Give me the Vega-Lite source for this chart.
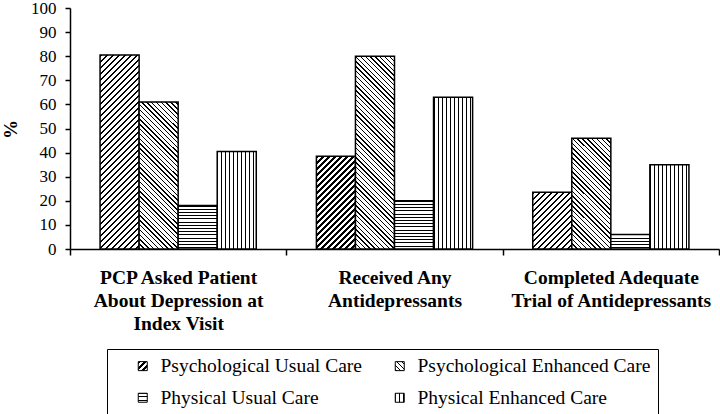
{
  "$schema": "https://vega.github.io/schema/vega-lite/v6.json",
  "width": 649,
  "height": 241,
  "autosize": {"type": "none"},
  "padding": {"left": 70, "top": 8, "right": 1, "bottom": 165},
  "background": "white",
  "params": [
    {"name": "thick", "value": [
      {"offset":0,"color":"#000"},{"offset":0.009,"color":"#000"},{"offset":0.009,"color":"#fff"},{"offset":0.02,"color":"#fff"},
      {"offset":0.02,"color":"#000"},{"offset":0.029,"color":"#000"},{"offset":0.029,"color":"#fff"},{"offset":0.04,"color":"#fff"},
      {"offset":0.04,"color":"#000"},{"offset":0.049,"color":"#000"},{"offset":0.049,"color":"#fff"},{"offset":0.06,"color":"#fff"},
      {"offset":0.06,"color":"#000"},{"offset":0.069,"color":"#000"},{"offset":0.069,"color":"#fff"},{"offset":0.08,"color":"#fff"},
      {"offset":0.08,"color":"#000"},{"offset":0.089,"color":"#000"},{"offset":0.089,"color":"#fff"},{"offset":0.1,"color":"#fff"},
      {"offset":0.1,"color":"#000"},{"offset":0.109,"color":"#000"},{"offset":0.109,"color":"#fff"},{"offset":0.12,"color":"#fff"},
      {"offset":0.12,"color":"#000"},{"offset":0.129,"color":"#000"},{"offset":0.129,"color":"#fff"},{"offset":0.14,"color":"#fff"},
      {"offset":0.14,"color":"#000"},{"offset":0.149,"color":"#000"},{"offset":0.149,"color":"#fff"},{"offset":0.16,"color":"#fff"},
      {"offset":0.16,"color":"#000"},{"offset":0.169,"color":"#000"},{"offset":0.169,"color":"#fff"},{"offset":0.18,"color":"#fff"},
      {"offset":0.18,"color":"#000"},{"offset":0.189,"color":"#000"},{"offset":0.189,"color":"#fff"},{"offset":0.2,"color":"#fff"},
      {"offset":0.2,"color":"#000"},{"offset":0.209,"color":"#000"},{"offset":0.209,"color":"#fff"},{"offset":0.22,"color":"#fff"},
      {"offset":0.22,"color":"#000"},{"offset":0.229,"color":"#000"},{"offset":0.229,"color":"#fff"},{"offset":0.24,"color":"#fff"},
      {"offset":0.24,"color":"#000"},{"offset":0.249,"color":"#000"},{"offset":0.249,"color":"#fff"},{"offset":0.26,"color":"#fff"},
      {"offset":0.26,"color":"#000"},{"offset":0.269,"color":"#000"},{"offset":0.269,"color":"#fff"},{"offset":0.28,"color":"#fff"},
      {"offset":0.28,"color":"#000"},{"offset":0.289,"color":"#000"},{"offset":0.289,"color":"#fff"},{"offset":0.3,"color":"#fff"},
      {"offset":0.3,"color":"#000"},{"offset":0.309,"color":"#000"},{"offset":0.309,"color":"#fff"},{"offset":0.32,"color":"#fff"},
      {"offset":0.32,"color":"#000"},{"offset":0.329,"color":"#000"},{"offset":0.329,"color":"#fff"},{"offset":0.34,"color":"#fff"},
      {"offset":0.34,"color":"#000"},{"offset":0.349,"color":"#000"},{"offset":0.349,"color":"#fff"},{"offset":0.36,"color":"#fff"},
      {"offset":0.36,"color":"#000"},{"offset":0.369,"color":"#000"},{"offset":0.369,"color":"#fff"},{"offset":0.38,"color":"#fff"},
      {"offset":0.38,"color":"#000"},{"offset":0.389,"color":"#000"},{"offset":0.389,"color":"#fff"},{"offset":0.4,"color":"#fff"},
      {"offset":0.4,"color":"#000"},{"offset":0.409,"color":"#000"},{"offset":0.409,"color":"#fff"},{"offset":0.42,"color":"#fff"},
      {"offset":0.42,"color":"#000"},{"offset":0.429,"color":"#000"},{"offset":0.429,"color":"#fff"},{"offset":0.44,"color":"#fff"},
      {"offset":0.44,"color":"#000"},{"offset":0.449,"color":"#000"},{"offset":0.449,"color":"#fff"},{"offset":0.46,"color":"#fff"},
      {"offset":0.46,"color":"#000"},{"offset":0.469,"color":"#000"},{"offset":0.469,"color":"#fff"},{"offset":0.48,"color":"#fff"},
      {"offset":0.48,"color":"#000"},{"offset":0.489,"color":"#000"},{"offset":0.489,"color":"#fff"},{"offset":0.5,"color":"#fff"},
      {"offset":0.5,"color":"#000"},{"offset":0.509,"color":"#000"},{"offset":0.509,"color":"#fff"},{"offset":0.52,"color":"#fff"},
      {"offset":0.52,"color":"#000"},{"offset":0.529,"color":"#000"},{"offset":0.529,"color":"#fff"},{"offset":0.54,"color":"#fff"},
      {"offset":0.54,"color":"#000"},{"offset":0.549,"color":"#000"},{"offset":0.549,"color":"#fff"},{"offset":0.56,"color":"#fff"},
      {"offset":0.56,"color":"#000"},{"offset":0.569,"color":"#000"},{"offset":0.569,"color":"#fff"},{"offset":0.58,"color":"#fff"},
      {"offset":0.58,"color":"#000"},{"offset":0.589,"color":"#000"},{"offset":0.589,"color":"#fff"},{"offset":0.6,"color":"#fff"},
      {"offset":0.6,"color":"#000"},{"offset":0.609,"color":"#000"},{"offset":0.609,"color":"#fff"},{"offset":0.62,"color":"#fff"},
      {"offset":0.62,"color":"#000"},{"offset":0.629,"color":"#000"},{"offset":0.629,"color":"#fff"},{"offset":0.64,"color":"#fff"},
      {"offset":0.64,"color":"#000"},{"offset":0.649,"color":"#000"},{"offset":0.649,"color":"#fff"},{"offset":0.66,"color":"#fff"},
      {"offset":0.66,"color":"#000"},{"offset":0.669,"color":"#000"},{"offset":0.669,"color":"#fff"},{"offset":0.68,"color":"#fff"},
      {"offset":0.68,"color":"#000"},{"offset":0.689,"color":"#000"},{"offset":0.689,"color":"#fff"},{"offset":0.7,"color":"#fff"},
      {"offset":0.7,"color":"#000"},{"offset":0.709,"color":"#000"},{"offset":0.709,"color":"#fff"},{"offset":0.72,"color":"#fff"},
      {"offset":0.72,"color":"#000"},{"offset":0.729,"color":"#000"},{"offset":0.729,"color":"#fff"},{"offset":0.74,"color":"#fff"},
      {"offset":0.74,"color":"#000"},{"offset":0.749,"color":"#000"},{"offset":0.749,"color":"#fff"},{"offset":0.76,"color":"#fff"},
      {"offset":0.76,"color":"#000"},{"offset":0.769,"color":"#000"},{"offset":0.769,"color":"#fff"},{"offset":0.78,"color":"#fff"},
      {"offset":0.78,"color":"#000"},{"offset":0.789,"color":"#000"},{"offset":0.789,"color":"#fff"},{"offset":0.8,"color":"#fff"},
      {"offset":0.8,"color":"#000"},{"offset":0.809,"color":"#000"},{"offset":0.809,"color":"#fff"},{"offset":0.82,"color":"#fff"},
      {"offset":0.82,"color":"#000"},{"offset":0.829,"color":"#000"},{"offset":0.829,"color":"#fff"},{"offset":0.84,"color":"#fff"},
      {"offset":0.84,"color":"#000"},{"offset":0.849,"color":"#000"},{"offset":0.849,"color":"#fff"},{"offset":0.86,"color":"#fff"},
      {"offset":0.86,"color":"#000"},{"offset":0.869,"color":"#000"},{"offset":0.869,"color":"#fff"},{"offset":0.88,"color":"#fff"},
      {"offset":0.88,"color":"#000"},{"offset":0.889,"color":"#000"},{"offset":0.889,"color":"#fff"},{"offset":0.9,"color":"#fff"},
      {"offset":0.9,"color":"#000"},{"offset":0.909,"color":"#000"},{"offset":0.909,"color":"#fff"},{"offset":0.92,"color":"#fff"},
      {"offset":0.92,"color":"#000"},{"offset":0.929,"color":"#000"},{"offset":0.929,"color":"#fff"},{"offset":0.94,"color":"#fff"},
      {"offset":0.94,"color":"#000"},{"offset":0.949,"color":"#000"},{"offset":0.949,"color":"#fff"},{"offset":0.96,"color":"#fff"},
      {"offset":0.96,"color":"#000"},{"offset":0.969,"color":"#000"},{"offset":0.969,"color":"#fff"},{"offset":0.98,"color":"#fff"},
      {"offset":0.98,"color":"#000"},{"offset":0.989,"color":"#000"},{"offset":0.989,"color":"#fff"},{"offset":1,"color":"#fff"}
    ]},
    {"name": "thin", "value": [
      {"offset":0,"color":"#000"},{"offset":0.006,"color":"#000"},{"offset":0.006,"color":"#fff"},{"offset":0.02,"color":"#fff"},
      {"offset":0.02,"color":"#000"},{"offset":0.026,"color":"#000"},{"offset":0.026,"color":"#fff"},{"offset":0.04,"color":"#fff"},
      {"offset":0.04,"color":"#000"},{"offset":0.046,"color":"#000"},{"offset":0.046,"color":"#fff"},{"offset":0.06,"color":"#fff"},
      {"offset":0.06,"color":"#000"},{"offset":0.066,"color":"#000"},{"offset":0.066,"color":"#fff"},{"offset":0.08,"color":"#fff"},
      {"offset":0.08,"color":"#000"},{"offset":0.086,"color":"#000"},{"offset":0.086,"color":"#fff"},{"offset":0.1,"color":"#fff"},
      {"offset":0.1,"color":"#000"},{"offset":0.106,"color":"#000"},{"offset":0.106,"color":"#fff"},{"offset":0.12,"color":"#fff"},
      {"offset":0.12,"color":"#000"},{"offset":0.126,"color":"#000"},{"offset":0.126,"color":"#fff"},{"offset":0.14,"color":"#fff"},
      {"offset":0.14,"color":"#000"},{"offset":0.146,"color":"#000"},{"offset":0.146,"color":"#fff"},{"offset":0.16,"color":"#fff"},
      {"offset":0.16,"color":"#000"},{"offset":0.166,"color":"#000"},{"offset":0.166,"color":"#fff"},{"offset":0.18,"color":"#fff"},
      {"offset":0.18,"color":"#000"},{"offset":0.186,"color":"#000"},{"offset":0.186,"color":"#fff"},{"offset":0.2,"color":"#fff"},
      {"offset":0.2,"color":"#000"},{"offset":0.206,"color":"#000"},{"offset":0.206,"color":"#fff"},{"offset":0.22,"color":"#fff"},
      {"offset":0.22,"color":"#000"},{"offset":0.226,"color":"#000"},{"offset":0.226,"color":"#fff"},{"offset":0.24,"color":"#fff"},
      {"offset":0.24,"color":"#000"},{"offset":0.246,"color":"#000"},{"offset":0.246,"color":"#fff"},{"offset":0.26,"color":"#fff"},
      {"offset":0.26,"color":"#000"},{"offset":0.266,"color":"#000"},{"offset":0.266,"color":"#fff"},{"offset":0.28,"color":"#fff"},
      {"offset":0.28,"color":"#000"},{"offset":0.286,"color":"#000"},{"offset":0.286,"color":"#fff"},{"offset":0.3,"color":"#fff"},
      {"offset":0.3,"color":"#000"},{"offset":0.306,"color":"#000"},{"offset":0.306,"color":"#fff"},{"offset":0.32,"color":"#fff"},
      {"offset":0.32,"color":"#000"},{"offset":0.326,"color":"#000"},{"offset":0.326,"color":"#fff"},{"offset":0.34,"color":"#fff"},
      {"offset":0.34,"color":"#000"},{"offset":0.346,"color":"#000"},{"offset":0.346,"color":"#fff"},{"offset":0.36,"color":"#fff"},
      {"offset":0.36,"color":"#000"},{"offset":0.366,"color":"#000"},{"offset":0.366,"color":"#fff"},{"offset":0.38,"color":"#fff"},
      {"offset":0.38,"color":"#000"},{"offset":0.386,"color":"#000"},{"offset":0.386,"color":"#fff"},{"offset":0.4,"color":"#fff"},
      {"offset":0.4,"color":"#000"},{"offset":0.406,"color":"#000"},{"offset":0.406,"color":"#fff"},{"offset":0.42,"color":"#fff"},
      {"offset":0.42,"color":"#000"},{"offset":0.426,"color":"#000"},{"offset":0.426,"color":"#fff"},{"offset":0.44,"color":"#fff"},
      {"offset":0.44,"color":"#000"},{"offset":0.446,"color":"#000"},{"offset":0.446,"color":"#fff"},{"offset":0.46,"color":"#fff"},
      {"offset":0.46,"color":"#000"},{"offset":0.466,"color":"#000"},{"offset":0.466,"color":"#fff"},{"offset":0.48,"color":"#fff"},
      {"offset":0.48,"color":"#000"},{"offset":0.486,"color":"#000"},{"offset":0.486,"color":"#fff"},{"offset":0.5,"color":"#fff"},
      {"offset":0.5,"color":"#000"},{"offset":0.506,"color":"#000"},{"offset":0.506,"color":"#fff"},{"offset":0.52,"color":"#fff"},
      {"offset":0.52,"color":"#000"},{"offset":0.526,"color":"#000"},{"offset":0.526,"color":"#fff"},{"offset":0.54,"color":"#fff"},
      {"offset":0.54,"color":"#000"},{"offset":0.546,"color":"#000"},{"offset":0.546,"color":"#fff"},{"offset":0.56,"color":"#fff"},
      {"offset":0.56,"color":"#000"},{"offset":0.566,"color":"#000"},{"offset":0.566,"color":"#fff"},{"offset":0.58,"color":"#fff"},
      {"offset":0.58,"color":"#000"},{"offset":0.586,"color":"#000"},{"offset":0.586,"color":"#fff"},{"offset":0.6,"color":"#fff"},
      {"offset":0.6,"color":"#000"},{"offset":0.606,"color":"#000"},{"offset":0.606,"color":"#fff"},{"offset":0.62,"color":"#fff"},
      {"offset":0.62,"color":"#000"},{"offset":0.626,"color":"#000"},{"offset":0.626,"color":"#fff"},{"offset":0.64,"color":"#fff"},
      {"offset":0.64,"color":"#000"},{"offset":0.646,"color":"#000"},{"offset":0.646,"color":"#fff"},{"offset":0.66,"color":"#fff"},
      {"offset":0.66,"color":"#000"},{"offset":0.666,"color":"#000"},{"offset":0.666,"color":"#fff"},{"offset":0.68,"color":"#fff"},
      {"offset":0.68,"color":"#000"},{"offset":0.686,"color":"#000"},{"offset":0.686,"color":"#fff"},{"offset":0.7,"color":"#fff"},
      {"offset":0.7,"color":"#000"},{"offset":0.706,"color":"#000"},{"offset":0.706,"color":"#fff"},{"offset":0.72,"color":"#fff"},
      {"offset":0.72,"color":"#000"},{"offset":0.726,"color":"#000"},{"offset":0.726,"color":"#fff"},{"offset":0.74,"color":"#fff"},
      {"offset":0.74,"color":"#000"},{"offset":0.746,"color":"#000"},{"offset":0.746,"color":"#fff"},{"offset":0.76,"color":"#fff"},
      {"offset":0.76,"color":"#000"},{"offset":0.766,"color":"#000"},{"offset":0.766,"color":"#fff"},{"offset":0.78,"color":"#fff"},
      {"offset":0.78,"color":"#000"},{"offset":0.786,"color":"#000"},{"offset":0.786,"color":"#fff"},{"offset":0.8,"color":"#fff"},
      {"offset":0.8,"color":"#000"},{"offset":0.806,"color":"#000"},{"offset":0.806,"color":"#fff"},{"offset":0.82,"color":"#fff"},
      {"offset":0.82,"color":"#000"},{"offset":0.826,"color":"#000"},{"offset":0.826,"color":"#fff"},{"offset":0.84,"color":"#fff"},
      {"offset":0.84,"color":"#000"},{"offset":0.846,"color":"#000"},{"offset":0.846,"color":"#fff"},{"offset":0.86,"color":"#fff"},
      {"offset":0.86,"color":"#000"},{"offset":0.866,"color":"#000"},{"offset":0.866,"color":"#fff"},{"offset":0.88,"color":"#fff"},
      {"offset":0.88,"color":"#000"},{"offset":0.886,"color":"#000"},{"offset":0.886,"color":"#fff"},{"offset":0.9,"color":"#fff"},
      {"offset":0.9,"color":"#000"},{"offset":0.906,"color":"#000"},{"offset":0.906,"color":"#fff"},{"offset":0.92,"color":"#fff"},
      {"offset":0.92,"color":"#000"},{"offset":0.926,"color":"#000"},{"offset":0.926,"color":"#fff"},{"offset":0.94,"color":"#fff"},
      {"offset":0.94,"color":"#000"},{"offset":0.946,"color":"#000"},{"offset":0.946,"color":"#fff"},{"offset":0.96,"color":"#fff"},
      {"offset":0.96,"color":"#000"},{"offset":0.966,"color":"#000"},{"offset":0.966,"color":"#fff"},{"offset":0.98,"color":"#fff"},
      {"offset":0.98,"color":"#000"},{"offset":0.986,"color":"#000"},{"offset":0.986,"color":"#fff"},{"offset":1,"color":"#fff"}
    ]}
  ],
  "data": {"values": [
    {"measure": "PCP Asked Patient About Depression at Index Visit", "group": "Psychological Usual Care", "pct": 80.5},
    {"measure": "PCP Asked Patient About Depression at Index Visit", "group": "Psychological Enhanced Care", "pct": 61},
    {"measure": "PCP Asked Patient About Depression at Index Visit", "group": "Physical Usual Care", "pct": 18},
    {"measure": "PCP Asked Patient About Depression at Index Visit", "group": "Physical Enhanced Care", "pct": 40.5},
    {"measure": "Received Any Antidepressants", "group": "Psychological Usual Care", "pct": 38.5},
    {"measure": "Received Any Antidepressants", "group": "Psychological Enhanced Care", "pct": 80},
    {"measure": "Received Any Antidepressants", "group": "Physical Usual Care", "pct": 20},
    {"measure": "Received Any Antidepressants", "group": "Physical Enhanced Care", "pct": 63},
    {"measure": "Completed Adequate Trial of Antidepressants", "group": "Psychological Usual Care", "pct": 23.5},
    {"measure": "Completed Adequate Trial of Antidepressants", "group": "Psychological Enhanced Care", "pct": 46},
    {"measure": "Completed Adequate Trial of Antidepressants", "group": "Physical Usual Care", "pct": 6},
    {"measure": "Completed Adequate Trial of Antidepressants", "group": "Physical Enhanced Care", "pct": 35}
  ]},
  "mark": {
    "type": "bar",
    "strokeWidth": 1.5,
    "fill": {"expr": "!isValid(datum.pct) ? (datum.value === 'Psychological Usual Care' ? {gradient: 'linear', x1: 0, y1: 0, x2: 16.67, y2: 16.67, stops: thick} : datum.value === 'Psychological Enhanced Care' ? {gradient: 'linear', x1: 0, y1: 1, x2: 13.33, y2: -12.33, stops: thin} : datum.value === 'Physical Usual Care' ? {gradient: 'linear', x1: 0, y1: 0, x2: 0, y2: 17.78, stops: thin} : {gradient: 'linear', x1: 0, y1: 0, x2: 22.2, y2: 0, stops: thin}) : datum.group === 'Psychological Usual Care' ? {gradient: 'linear', x1: 0, y1: 0, x2: 11700 / (pow(datum.pct * 2.41, 2) + 1521), y2: 723 * datum.pct / (pow(datum.pct * 2.41, 2) + 1521), stops: thick} : datum.group === 'Psychological Enhanced Care' ? {gradient: 'linear', x1: 0, y1: 1, x2: 9360 / (pow(datum.pct * 2.41, 2) + 1521), y2: 1 - 578.4 * datum.pct / (pow(datum.pct * 2.41, 2) + 1521), stops: thin} : datum.group === 'Physical Usual Care' ? {gradient: 'linear', x1: 0, y1: 0, x2: 0, y2: 160 / (datum.pct * 2.41), stops: thin} : {gradient: 'linear', x1: 0, y1: 0, x2: 5.13, y2: 0, stops: thin}"}
  },
  "encoding": {
    "x": {
      "field": "measure", "type": "nominal",
      "scale": {"domain": ["PCP Asked Patient About Depression at Index Visit", "Received Any Antidepressants", "Completed Adequate Trial of Antidepressants"], "paddingInner": 0, "paddingOuter": 0},
      "axis": {
        "title": null, "labelAngle": 0, "tickBand": "extent",
        "labelFont": "Liberation Serif", "labelFontWeight": "bold", "labelFontSize": 19.5, "labelLineHeight": 23,
        "labelColor": "#000", "labelLimit": 0, "labelOverlap": false, "labelBaseline": "top", "labelPadding": 13,
        "tickSize": 6, "tickColor": "#000", "tickWidth": 1.5, "domainColor": "#000", "domainWidth": 1.5,
        "labelExpr": "datum.label === 'PCP Asked Patient About Depression at Index Visit' ? ['PCP Asked Patient', 'About Depression at', 'Index Visit'] : datum.label === 'Received Any Antidepressants' ? ['Received Any', 'Antidepressants'] : datum.label === 'Completed Adequate Trial of Antidepressants' ? ['Completed Adequate', 'Trial of Antidepressants'] : ''"
      }
    },
    "xOffset": {
      "field": "group", "type": "nominal",
      "scale": {"domain": ["Psychological Usual Care", "Psychological Enhanced Care", "Physical Usual Care", "Physical Enhanced Care"], "paddingInner": 0, "paddingOuter": 0.77}
    },
    "y": {
      "field": "pct", "type": "quantitative", "stack": null,
      "scale": {"domain": [0, 100], "nice": false},
      "axis": {
        "values": [0, 10, 20, 30, 40, 50, 60, 70, 80, 90, 100], "title": "%", "grid": false,
        "labelFont": "Liberation Serif", "labelFontSize": 17, "labelColor": "#000", "labelPadding": 9,
        "tickSize": 5, "tickColor": "#000", "tickWidth": 1.5, "domainColor": "#000", "domainWidth": 1.5,
        "titleFont": "Liberation Serif", "titleFontWeight": "bold", "titleFontSize": 19, "titleColor": "#000",
        "titleAngle": -90, "titleX": -60, "titleY": 121, "titleAlign": "center", "titleBaseline": "middle"
      }
    },
    "stroke": {
      "field": "group", "type": "nominal",
      "scale": {"domain": ["Psychological Usual Care", "Psychological Enhanced Care", "Physical Usual Care", "Physical Enhanced Care"], "range": ["#000", "#000", "#000", "#000"]},
      "legend": {
        "orient": "none", "legendX": 37, "legendY": 341, "columns": 2, "direction": "horizontal",
        "title": "\u00a0", "titleOrient": "left", "titlePadding": 19, "titleFontSize": 19.5,
        "labelFont": "Liberation Serif", "labelFontSize": 19.5, "labelColor": "#000", "labelLimit": 0, "labelOffset": 8,
        "symbolType": "square", "symbolSize": 81, "symbolStrokeWidth": 1,
        "columnPadding": 28, "rowPadding": 11, "padding": 7, "strokeColor": "#000",
        "labelExpr": "indexof(datum.label, 'Enhanced') >= 0 ? datum.label + '\u00a0\u00a0\u00a0\u00a0\u00a0\u00a0\u00a0\u00a0\u00a0' : datum.label",
        "encode": {
          "legend": {"strokeWidth": {"value": 1.5}}
        }
      }
    }
  },
  "config": {"view": {"stroke": null}, "font": "Liberation Serif"}
}
